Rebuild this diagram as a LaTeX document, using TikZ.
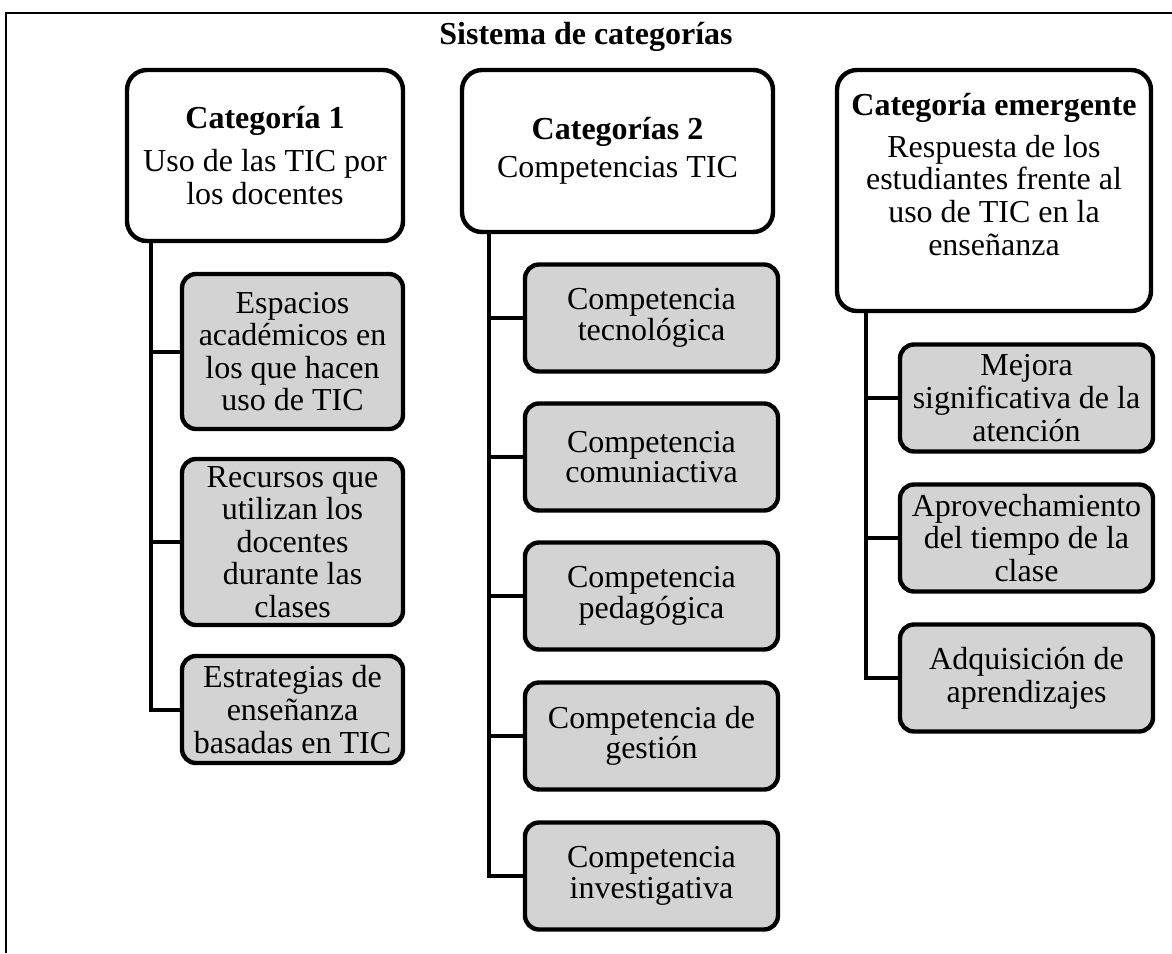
\documentclass[tikz,border=0pt]{standalone}
\usepackage{fontspec}
\setmainfont{Liberation Serif}
\usepackage{xcolor}
\definecolor{CatGray}{HTML}{D3D3D3}
\definecolor{CatBlack}{HTML}{000000}

\tikzset{
    catbox/.style={draw=CatBlack, line width=2.2pt, rounded corners=10pt, fill=white,
        align=center, inner sep=2pt, font=\fontsize{16}{16.3}\selectfont},
    subbox/.style={draw=CatBlack, line width=2.2pt, rounded corners=7pt, fill=CatGray,
        align=center, inner sep=2pt, font=\fontsize{16}{16.3}\selectfont},
    compbox/.style={subbox, font=\fontsize{16}{15.2}\selectfont},
    tree/.style={draw=CatBlack, line width=2pt}
}
\newcommand{\cathead}[1]{{\fontsize{16}{17}\bfseries #1}}

\begin{document}
\begin{tikzpicture}[x=0.5pt, y=-0.5pt]
                \useasboundingbox (0,0) rectangle (1172,953);

                % Frame
                \draw[line width=1.1pt] (1172,13) -- (6,13) -- (6,953);

                % Title
                \node[font=\fontsize{16}{17}\bfseries] (title) at (586,37) {Sistema de categorías};

                % Categories
                \node[catbox, minimum width=138pt, minimum height=85.5pt] (cat1) at (265,155.5)
                    {\cathead{Categoría 1}\\[5pt] Uso de las TIC por\\ los docentes};
                \node[catbox, minimum width=155.5pt, minimum height=81pt] (cat2) at (617.5,151)
                    {\cathead{Categorías 2}\\[2.5pt] Competencias TIC};
                \node[catbox, minimum width=157pt, minimum height=120.5pt] (emer) at (994,190.5)
                    {\cathead{Categoría emergente}\\[4.5pt] Respuesta de los\\ estudiantes frente al\\ uso de TIC en la\\ enseñanza\\ ~};

                % Subcategories 1
                \node[subbox, minimum width=110.5pt, minimum height=77.5pt] (esp) at (292.5,351.5)
                    {Espacios\\ académicos en\\ los que hacen\\ uso de TIC};
                \node[subbox, minimum width=110.5pt, minimum height=83pt] (rec) at (292.5,542)
                    {Recursos que\\ utilizan los\\ docentes\\ durante las\\ clases};
                \node[subbox, minimum width=110.5pt, minimum height=53.5pt] (est) at (292.5,709.5)
                    {Estrategias de\\ enseñanza\\ basadas en TIC};

                % Subcategories 2
                \node[compbox, minimum width=126.5pt, minimum height=53.5pt] (tec) at (651.5,318)
                    {Competencia\\ tecnológica};
                \node[compbox, minimum width=126.5pt, minimum height=53.5pt] (com) at (651.5,457)
                    {Competencia\\ comuniactiva};
                \node[compbox, minimum width=126.5pt, minimum height=53.5pt] (ped) at (651.5,596)
                    {Competencia\\ pedagógica};
                \node[compbox, minimum width=126.5pt, minimum height=53.5pt] (ges) at (651.5,736)
                    {Competencia de\\ gestión};
                \node[compbox, minimum width=126.5pt, minimum height=53.5pt] (inv) at (651.5,876)
                    {Competencia\\ investigativa};

                % Subcategories emergent
                \node[subbox, minimum width=126.5pt, minimum height=53.5pt] (mej) at (1026.5,398)
                    {Mejora\\ significativa de la\\ atención};
                \node[subbox, minimum width=126.5pt, minimum height=53.5pt] (apr) at (1026.5,538)
                    {Aprovechamiento\\ del tiempo de la\\ clase};
                \node[subbox, minimum width=126.5pt, minimum height=53.5pt] (adq) at (1026.5,678)
                    {Adquisición de\\ aprendizajes};

                % Trunks
                \coordinate (t1) at ([xshift=13pt]cat1.south west);
                \coordinate (t2) at ([xshift=14.5pt]cat2.south west);
                \coordinate (t3) at ([xshift=15.5pt]emer.south west);

                % Branches
                \draw[tree] (t1) |- (esp.west);
                \draw[tree] (t1) |- (rec.west);
                \draw[tree] (t1) |- (est.west);
                \draw[tree] (t2) |- (tec.west);
                \draw[tree] (t2) |- (com.west);
                \draw[tree] (t2) |- (ped.west);
                \draw[tree] (t2) |- (ges.west);
                \draw[tree] (t2) |- (inv.west);
                \draw[tree] (t3) |- (mej.west);
                \draw[tree] (t3) |- (apr.west);
                \draw[tree] (t3) |- (adq.west);
            \end{tikzpicture}
\end{document}
